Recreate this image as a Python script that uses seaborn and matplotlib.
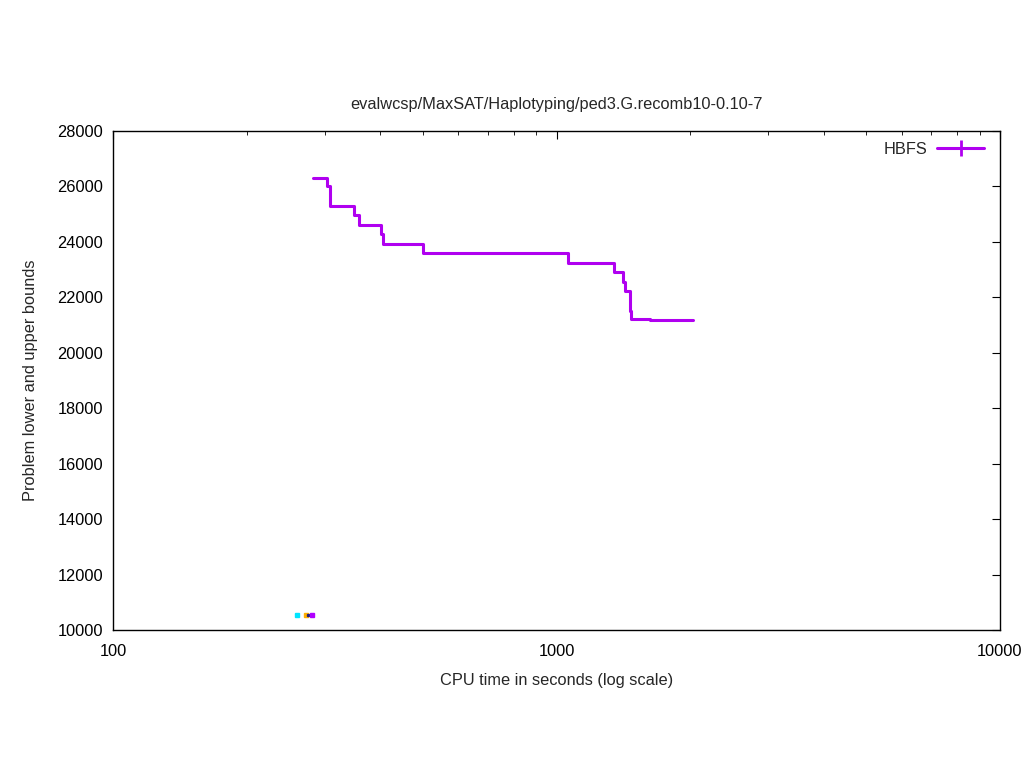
import matplotlib
matplotlib.use("Agg")
import matplotlib.pyplot as plt
import seaborn as sns
import pandas as pd
from matplotlib.lines import Line2D
from matplotlib.ticker import LogLocator, NullFormatter, FixedLocator

# HBFS upper-bound trace (steps)
hbfs_time = [282.6, 303.7, 308.5, 349, 358.7, 402, 406, 500, 1062, 1348,
             1415, 1429, 1464, 1471, 1625, 2035]
hbfs_bound = [26300, 26000, 25300, 24970, 24610, 24290, 23920, 23590, 23230,
              22900, 22540, 22230, 21520, 21210, 21170, 21170]

# little marks near the bottom (other series)
dot_time = [260, 272, 275.5, 281.5]
dot_bound = [10540, 10540, 10540, 10540]
dot_colors = ["#00e5ff", "#ffb000", "#202080", "#b000ff"]
dot_sizes = [2.8, 2.8, 1.4, 2.8]

sns.set_style("white")
plt.rcParams["font.family"] = ["Liberation Sans", "DejaVu Sans"]
fs = 11.8

fig = plt.figure(figsize=(10.24, 7.68), dpi=100)
ax = fig.add_axes([113 / 1024, 138 / 768, 887 / 1024, 499 / 768])

df = pd.DataFrame({"t": hbfs_time, "b": hbfs_bound})
sns.lineplot(data=df, x="t", y="b", ax=ax, estimator=None, sort=False,
             drawstyle="steps-post", color="#b000f0", linewidth=2.2)

for t, b, c, s in zip(dot_time, dot_bound, dot_colors, dot_sizes):
    ax.plot([t], [b], marker="s", markersize=s, color=c, linestyle="none")

ax.set_xscale("log")
ax.set_xlim(100, 10000)
ax.set_ylim(10000, 28000)
ax.yaxis.set_major_locator(FixedLocator(range(10000, 28001, 2000)))
ax.xaxis.set_major_locator(FixedLocator([100, 1000, 10000]))
ax.set_xticklabels(["100", "1000", "10000"])
ax.xaxis.set_minor_locator(LogLocator(base=10, subs=range(2, 10)))
ax.xaxis.set_minor_formatter(NullFormatter())

for s in ax.spines.values():
    s.set_color("black")
    s.set_linewidth(1)
ax.tick_params(which="both", direction="in", top=True, right=True,
               colors="black", labelsize=fs)
ax.tick_params(which="major", length=6)
ax.tick_params(which="minor", length=3)
ax.tick_params(axis="x", pad=10)
ax.tick_params(axis="y", pad=7)

ax.set_xlabel("CPU time in seconds (log scale)", fontsize=fs, labelpad=10)
ax.set_ylabel("Problem lower and upper bounds", fontsize=fs, labelpad=14)
ax.set_title("evalwcsp/MaxSAT/Haplotyping/ped3.G.recomb10-0.10-7",
             fontsize=fs, pad=16)

handle = Line2D([], [], color="#b000f0", linewidth=2.2, marker="+",
                markersize=12, markeredgewidth=2)
ax.legend([handle], ["HBFS"], loc="upper right", frameon=False,
          fontsize=fs, markerfirst=False, numpoints=1, handlelength=2.9,
          handletextpad=0.6, borderaxespad=0.25,
          bbox_to_anchor=(1 - 5 / 887, 1))

fig.savefig("out.png", dpi=100)
